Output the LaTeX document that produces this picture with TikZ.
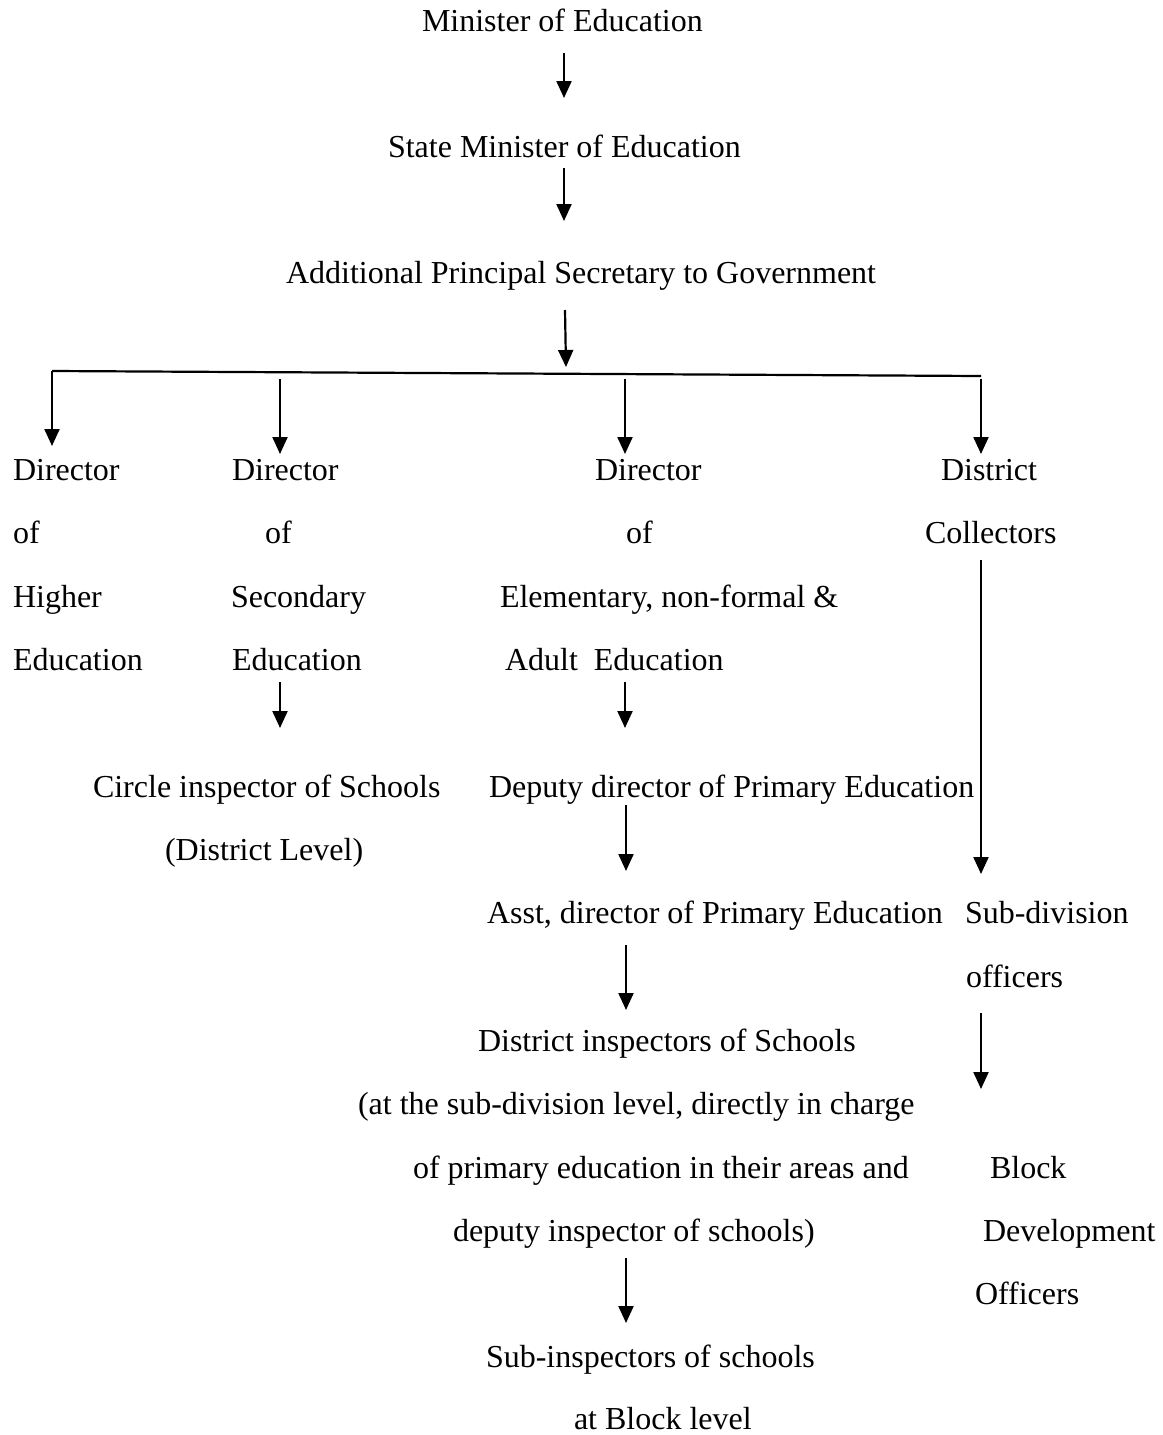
\documentclass[tikz,border=0pt]{standalone}
\usepackage{fontspec}
\setmainfont{Liberation Serif}
\usetikzlibrary{arrows.meta}
\begin{document}
\begin{tikzpicture}[x=1pt,y=-1pt,
  lbl/.style={anchor=base west,inner sep=0pt,outer sep=0pt,
    font=\fontsize{32}{38}\selectfont},
  flow/.style={-{Triangle[width=15pt,length=17pt]},line width=2.2pt},
  bar/.style={line width=2.2pt}]
\useasboundingbox (0,0) rectangle (1162,1435);

% ---- top chain ----
\node[lbl] (min)   at (422,31)  {Minister of Education};
\node[lbl] (smin)  at (388,157) {State Minister of Education};
\node[lbl] (aps)   at (286,283) {Additional Principal Secretary to Government};

% ---- column 1: higher education ----
\node[lbl] (d1a) at (13,480) {Director};
\node[lbl] (d1b) at (13,543) {of};
\node[lbl] (d1c) at (13,607) {Higher};
\node[lbl] (d1d) at (13,670) {Education};

% ---- column 2: secondary education ----
\node[lbl] (d2a) at (232,480) {Director};
\node[lbl] (d2b) at (265,543) {of};
\node[lbl] (d2c) at (231,607) {Secondary};
\node[lbl] (d2d) at (232,670) {Education};
\node[lbl] (cis)  at (93,797)  {Circle inspector of Schools};
\node[lbl] (cisb) at (165,860) {(District Level)};

% ---- column 3: elementary education ----
\node[lbl] (d3a) at (595,480) {Director};
\node[lbl] (d3b) at (626,543) {of};
\node[lbl] (d3c) at (500,607) {Elementary, non-formal \&};
\node[lbl] (d3d) at (505,670) {Adult\ \ Education};
\node[lbl] (dep)  at (489,797)  {Deputy director of Primary Education};
\node[lbl] (asst) at (487,923)  {Asst, director of Primary Education};
\node[lbl] (dis1) at (478,1051) {District inspectors of Schools};
\node[lbl] (dis2) at (358,1114) {(at the sub-division level, directly in charge};
\node[lbl] (dis3) at (413,1178) {of primary education in their areas and};
\node[lbl] (dis4) at (453,1241) {deputy inspector of schools)};
\node[lbl] (sub1) at (486,1367) {Sub-inspectors of schools};
\node[lbl] (sub2) at (574,1429) {at Block level};

% ---- column 4: district collectors ----
\node[lbl] (dc1) at (941,480) {District};
\node[lbl] (dc2) at (925,543) {Collectors};
\node[lbl] (sdo1) at (965,923) {Sub-division};
\node[lbl] (sdo2) at (966,987) {officers};
\node[lbl] (bdo1) at (990,1178) {Block};
\node[lbl] (bdo2) at (983,1241) {Development};
\node[lbl] (bdo3) at (975,1304) {Officers};

% ---- connector end points ----
\coordinate (a1s) at (564,53);  \coordinate (a1e) at (564,98);
\coordinate (a2s) at (564,168); \coordinate (a2e) at (564,221);
\coordinate (a3s) at (565,310); \coordinate (a3e) at (566,367);
\coordinate (barL) at (52,371); \coordinate (barR) at (981,376);
\coordinate (c1e) at (52,446);
\coordinate (c2s) at (280,379); \coordinate (c2e) at (280,454);
\coordinate (c3s) at (625,379); \coordinate (c3e) at (625,454);
\coordinate (c4s) at (981,379); \coordinate (c4e) at (981,454);
\coordinate (s2s) at (280,682); \coordinate (s2e) at (280,728);
\coordinate (e1s) at (625,682); \coordinate (e1e) at (625,728);
\coordinate (e2s) at (626,805); \coordinate (e2e) at (626,871);
\coordinate (e3s) at (626,945); \coordinate (e3e) at (626,1010);
\coordinate (e4s) at (626,1258); \coordinate (e4e) at (626,1323);
\coordinate (k1s) at (981,560); \coordinate (k1e) at (981,874);
\coordinate (k2s) at (981,1013); \coordinate (k2e) at (981,1089);

% ---- connectors ----
\draw[flow] (a1s) -- (a1e);
\draw[flow] (a2s) -- (a2e);
\draw[flow] (a3s) -- (a3e);
\draw[bar] (barR) -- (barL);
\draw[flow] (barL) -- (c1e);
\draw[flow] (c2s) -- (c2e);
\draw[flow] (c3s) -- (c3e);
\draw[flow] (c4s) -- (c4e);
\draw[flow] (s2s) -- (s2e);
\draw[flow] (e1s) -- (e1e);
\draw[flow] (e2s) -- (e2e);
\draw[flow] (e3s) -- (e3e);
\draw[flow] (e4s) -- (e4e);
\draw[flow] (k1s) -- (k1e);
\draw[flow] (k2s) -- (k2e);
\end{tikzpicture}
\end{document}
